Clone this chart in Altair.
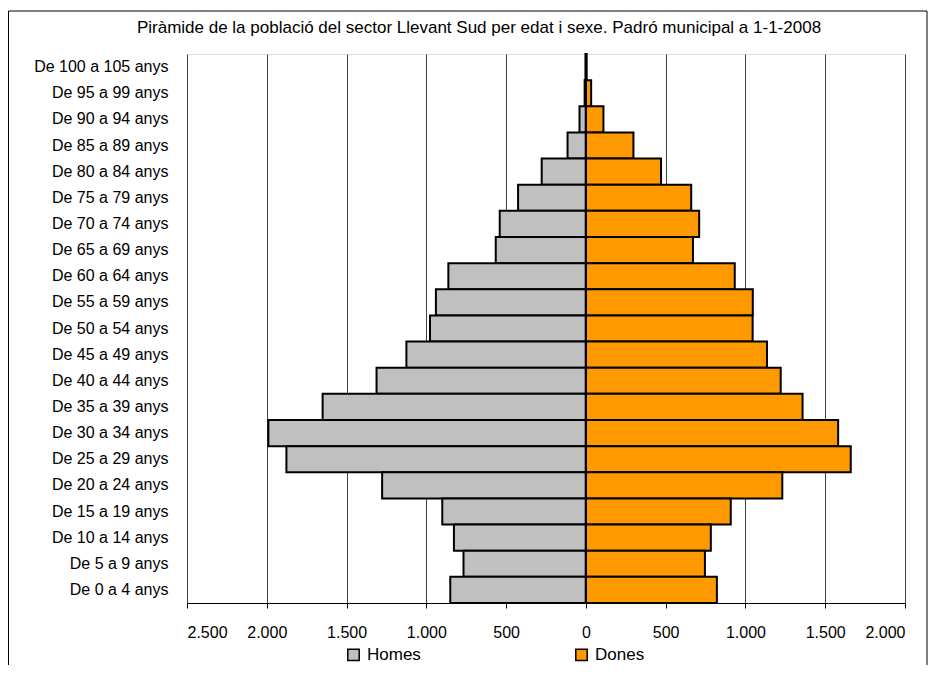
import altair as alt
import pandas as pd

categories = [
    "De 100 a 105 anys", "De 95 a 99 anys", "De 90 a 94 anys", "De 85 a 89 anys",
    "De 80 a 84 anys", "De 75 a 79 anys", "De 70 a 74 anys", "De 65 a 69 anys",
    "De 60 a 64 anys", "De 55 a 59 anys", "De 50 a 54 anys", "De 45 a 49 anys",
    "De 40 a 44 anys", "De 35 a 39 anys", "De 30 a 34 anys", "De 25 a 29 anys",
    "De 20 a 24 anys", "De 15 a 19 anys", "De 10 a 14 anys", "De 5 a 9 anys",
    "De 0 a 4 anys",
]
homes = [2, 8, 40, 115, 277, 425, 540, 565, 862, 940, 977, 1125, 1312, 1650,
         1990, 1877, 1277, 900, 827, 767, 850]
dones = [5, 33, 110, 298, 471, 660, 710, 671, 933, 1046, 1045, 1135, 1221, 1358,
         1581, 1660, 1231, 908, 783, 746, 821]
series = ["Homes", "Dones"]
colors = ["#C0C0C0", "#FF9900"]
title_text = "Piràmide de la població del sector Llevant Sud per edat i sexe. Padró municipal a 1-1-2008"
x_ticks = [-2500, -2000, -1500, -1000, -500, 0, 500, 1000, 1500, 2000]

rows = []
for c, h, d in zip(categories, homes, dones):
    rows.append({"cat": c, "sexe": "Homes", "value": -h})
    rows.append({"cat": c, "sexe": "Dones", "value": d})
df = pd.DataFrame(rows)

FONT = "Arial, Liberation Sans"
W, H = 718, 549

bars = alt.Chart(df).mark_bar(stroke="black", strokeWidth=2).encode(
    y=alt.Y("cat:N", sort=categories, title=None,
            scale=alt.Scale(paddingInner=0, paddingOuter=0),
            axis=alt.Axis(ticks=False, domain=False, labelPadding=19,
                          labelFontSize=16, labelFont=FONT, labelColor="black",
                          labelLimit=300)),
    x=alt.X("value:Q", stack=None, title=None,
            scale=alt.Scale(domain=[-2500, 2000], nice=False, zero=False),
            axis=alt.Axis(values=x_ticks, grid=True, gridColor="#404040", gridWidth=1,
                          domainColor="black", tickColor="black", tickSize=5,
                          labelPadding=16, labelFontSize=16, labelFont=FONT,
                          labelColor="black",
                          labelExpr="replace(format(abs(datum.value), ','), ',', '.')")),
    color=alt.Color("sexe:N", title=None,
                    scale=alt.Scale(domain=series, range=colors),
                    legend=alt.Legend(orient="none", direction="horizontal",
                                      legendX=158, legendY=592, padding=0,
                                      symbolType="square", symbolSize=130,
                                      symbolStrokeColor="black", symbolStrokeWidth=1.5,
                                      labelFontSize=17, labelFont=FONT, labelColor="black",
                                      labelOffset=5, columnPadding=151)),
)

zero_rule = alt.Chart(pd.DataFrame({"z": [0]})).mark_rule(color="black", strokeWidth=2).encode(
    x=alt.X("z:Q")
)

border = alt.Chart(pd.DataFrame({"a": [0]})).mark_rect(
    fill="transparent", stroke="black", strokeWidth=1
).encode(
    x=alt.value(-178.5), x2=alt.value(740), y=alt.value(-43), y2=alt.value(660)
)

chart = alt.layer(border, bars, zero_rule).properties(
    width=W, height=H,
    padding={"left": 179, "top": 46, "right": 23, "bottom": 62},
    autosize=alt.AutoSizeParams(type="none"),
    title=alt.TitleParams(title_text, fontSize=17, font=FONT, fontWeight="normal",
                          color="black", anchor="middle", frame="group",
                          dx=-67, offset=-26),
).configure_view(stroke="#555555", strokeWidth=1).configure(background="white")

chart.save("out.html", embed_options={"renderer": "svg", "actions": False})
